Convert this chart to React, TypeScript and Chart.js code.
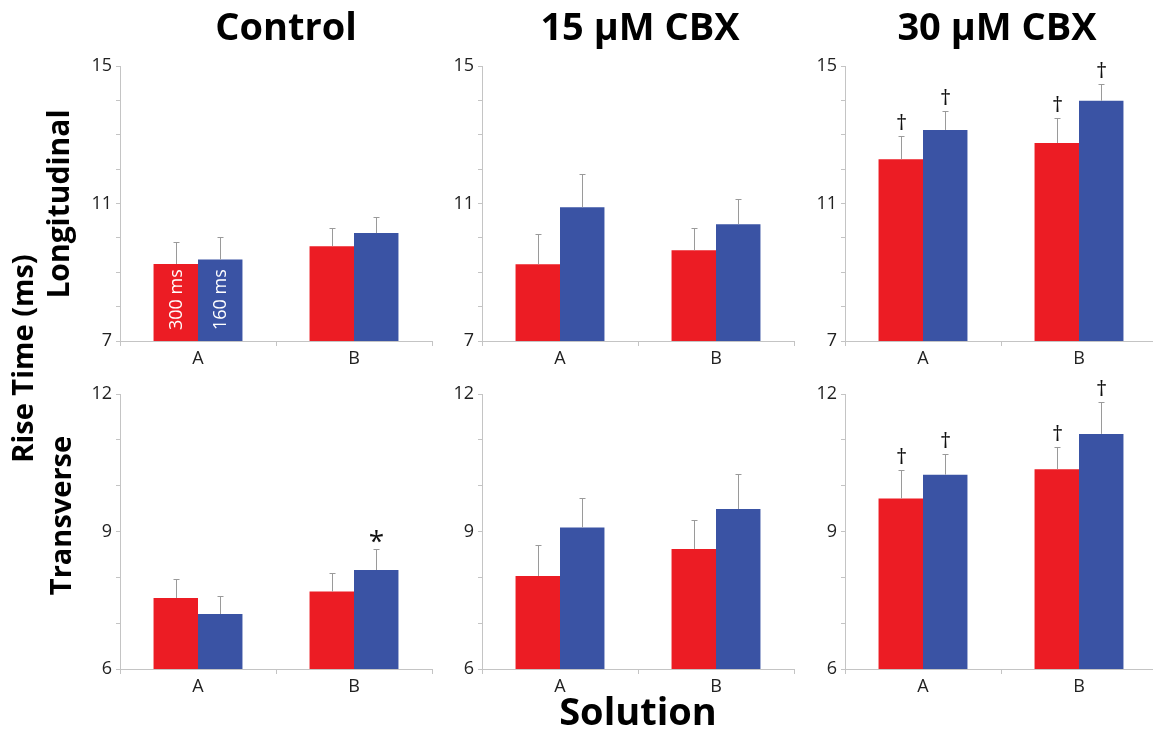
import React, { useEffect, useRef } from "react";
import { Chart, registerables } from "chart.js";

Chart.register(...registerables);

// ---------- data ----------
const categories = ["A", "B"];
const seriesNames = ["300 ms", "160 ms"];
const columnTitles = ["Control", "15 µM CBX", "30 µM CBX"];
const rowTitles = ["Longitudinal", "Transverse"];
const yAxisTitle = "Rise Time (ms)";
const xAxisTitle = "Solution";

const longTicks = [7, 11, 15];
const transTicks = [6, 9, 12];

// Longitudinal
const ctrlLong300 = [9.24, 9.76];
const ctrlLong160 = [9.37, 10.14];
const ctrlLong300Err = [0.63, 0.52];
const ctrlLong160Err = [0.66, 0.47];

const cbx15Long300 = [9.23, 9.64];
const cbx15Long160 = [10.89, 10.4];
const cbx15Long300Err = [0.87, 0.64];
const cbx15Long160Err = [0.97, 0.72];

const cbx30Long300 = [12.29, 12.76];
const cbx30Long160 = [13.14, 13.99];
const cbx30Long300Err = [0.66, 0.74];
const cbx30Long160Err = [0.55, 0.5];

// Transverse
const ctrlTrans300 = [7.55, 7.69];
const ctrlTrans160 = [7.2, 8.16];
const ctrlTrans300Err = [0.42, 0.41];
const ctrlTrans160Err = [0.4, 0.46];

const cbx15Trans300 = [8.03, 8.62];
const cbx15Trans160 = [9.09, 9.49];
const cbx15Trans300Err = [0.68, 0.64];
const cbx15Trans160Err = [0.64, 0.76];

const cbx30Trans300 = [9.72, 10.36];
const cbx30Trans160 = [10.24, 11.13];
const cbx30Trans300Err = [0.62, 0.49];
const cbx30Trans160Err = [0.45, 0.69];

// significance marks
const noMarks = ["", ""];
const ctrlTrans160Marks = ["", "*"];
const cbx30Marks = ["†", "†"];

// ---------- styling ----------
const RED = "#EC1C24";
const BLUE = "#3A53A4";
const AXIS = "#c4c4c4";
const ERR = "#9a9a9a";
const FONT = "'Open Sans', 'Noto Sans', sans-serif";

const COL_X = [120, 482, 845];
const ROW_Y = [66, 394];
const PLOT_H = 275;
const PLOT_W = 312;
const PAD_L = 60;
const PAD_T = 30;
const PAD_R = 10;
const X_H = 35;

type PanelCfg = {
  col: number;
  row: number;
  v300: number[];
  v160: number[];
  e300: number[];
  e160: number[];
  m300: string[];
  m160: string[];
  ticks: number[];
  inBar?: boolean;
};

const panels: PanelCfg[] = [
  { col: 0, row: 0, v300: ctrlLong300, v160: ctrlLong160, e300: ctrlLong300Err, e160: ctrlLong160Err, m300: noMarks, m160: noMarks, ticks: longTicks, inBar: true },
  { col: 1, row: 0, v300: cbx15Long300, v160: cbx15Long160, e300: cbx15Long300Err, e160: cbx15Long160Err, m300: noMarks, m160: noMarks, ticks: longTicks },
  { col: 2, row: 0, v300: cbx30Long300, v160: cbx30Long160, e300: cbx30Long300Err, e160: cbx30Long160Err, m300: cbx30Marks, m160: cbx30Marks, ticks: longTicks },
  { col: 0, row: 1, v300: ctrlTrans300, v160: ctrlTrans160, e300: ctrlTrans300Err, e160: ctrlTrans160Err, m300: noMarks, m160: ctrlTrans160Marks, ticks: transTicks },
  { col: 1, row: 1, v300: cbx15Trans300, v160: cbx15Trans160, e300: cbx15Trans300Err, e160: cbx15Trans160Err, m300: noMarks, m160: noMarks, ticks: transTicks },
  { col: 2, row: 1, v300: cbx30Trans300, v160: cbx30Trans160, e300: cbx30Trans300Err, e160: cbx30Trans160Err, m300: cbx30Marks, m160: cbx30Marks, ticks: transTicks },
];

const errPlugin = {
  id: "errbars",
  afterDatasetsDraw(chart: any) {
    const ctx = chart.ctx;
    const ys = chart.scales.y;
    chart.data.datasets.forEach((ds: any, di: number) => {
      const meta = chart.getDatasetMeta(di);
      meta.data.forEach((bar: any, i: number) => {
        const v = ds.data[i];
        const e = ds.errors[i];
        const yTop = Math.round(ys.getPixelForValue(v + e)) + 0.5;
        const x = Math.round(bar.x) + 0.5;
        ctx.save();
        ctx.strokeStyle = ERR;
        ctx.lineWidth = 1;
        ctx.beginPath();
        ctx.moveTo(x, bar.y);
        ctx.lineTo(x, yTop);
        ctx.moveTo(x - 3, yTop);
        ctx.lineTo(x + 3, yTop);
        ctx.stroke();
        const mk = ds.marks[i];
        if (mk) {
          const size = mk === "*" ? 28 : 22;
          ctx.font = `${size}px ${FONT}`;
          ctx.fillStyle = "#111";
          ctx.textAlign = "center";
          ctx.textBaseline = "alphabetic";
          const m = ctx.measureText(mk);
          const gap = 7;
          const base = yTop - gap - m.actualBoundingBoxDescent;
          ctx.fillText(mk, x, base);
        }
        if (ds.inBar && i === 0) {
          ctx.translate(bar.x, chart.chartArea.bottom - 11);
          ctx.rotate(-Math.PI / 2);
          ctx.font = `18px ${FONT}`;
          ctx.fillStyle = "#ffffff";
          ctx.textAlign = "left";
          ctx.textBaseline = "middle";
          ctx.fillText(ds.label, 0, 1);
        }
        ctx.restore();
      });
    });
  },
};

function Panel({ cfg }: { cfg: PanelCfg }) {
  const ref = useRef<HTMLCanvasElement | null>(null);
  const W = PAD_L + PLOT_W + PAD_R;
  const H = PAD_T + PLOT_H + X_H;
  useEffect(() => {
    if (!ref.current) return;
    const ymin = cfg.ticks[0];
    const ymax = cfg.ticks[cfg.ticks.length - 1];
    const chart = new Chart(ref.current, {
      type: "bar",
      data: {
        labels: categories,
        datasets: [
          {
            label: seriesNames[0],
            data: cfg.v300,
            backgroundColor: RED,
            borderWidth: 0,
            categoryPercentage: 0.57,
            barPercentage: 1,
            errors: cfg.e300,
            marks: cfg.m300,
            inBar: !!cfg.inBar,
          } as any,
          {
            label: seriesNames[1],
            data: cfg.v160,
            backgroundColor: BLUE,
            borderWidth: 0,
            categoryPercentage: 0.57,
            barPercentage: 1,
            errors: cfg.e160,
            marks: cfg.m160,
            inBar: !!cfg.inBar,
          } as any,
        ],
      },
      options: {
        responsive: false,
        animation: false,
        devicePixelRatio: 1,
        layout: { padding: { top: PAD_T, right: PAD_R, left: 0, bottom: 0 } },
        plugins: { legend: { display: false }, tooltip: { enabled: false } },
        scales: {
          x: {
            offset: true,
            grid: { display: true, drawOnChartArea: false, drawTicks: true, tickLength: 5, color: AXIS, offset: true },
            border: { color: AXIS },
            ticks: { font: { family: FONT, size: 18 }, color: "#222", padding: 2 },
            afterFit: (s: any) => {
              s.height = X_H;
            },
          },
          y: {
            min: ymin,
            max: ymax,
            grid: { drawOnChartArea: false, drawTicks: true, tickLength: 4, color: AXIS },
            border: { color: AXIS },
            ticks: {
              stepSize: 1,
              autoSkip: false,
              font: { family: FONT, size: 18 },
              color: "#222",
              padding: 4,
              callback: (v: any) => (cfg.ticks.includes(Number(v)) ? String(v) : ""),
            },
            afterFit: (s: any) => {
              s.width = PAD_L;
            },
          },
        },
      } as any,
      plugins: [errPlugin],
    });
    return () => chart.destroy();
  }, [cfg]);
  return (
    <canvas
      ref={ref}
      width={W}
      height={H}
      style={{
        position: "absolute",
        left: COL_X[cfg.col] - PAD_L,
        top: ROW_Y[cfg.row] - PAD_T,
        width: W,
        height: H,
      }}
    />
  );
}

function Label({ text, cx, cy, size, rotate }: { text: string; cx: number; cy: number; size: number; rotate?: boolean }) {
  const w = 400;
  return (
    <div
      style={{
        position: "absolute",
        left: cx - w / 2,
        top: cy - size / 2,
        width: w,
        height: size,
        lineHeight: `${size}px`,
        fontSize: size,
        fontFamily: FONT,
        fontWeight: 700,
        color: "#000",
        textAlign: "center",
        whiteSpace: "nowrap",
        transform: rotate ? "rotate(-90deg)" : undefined,
      }}
    >
      {text}
    </div>
  );
}

export default function App() {
  return (
    <div
      style={{
        position: "absolute",
        left: 0,
        top: 0,
        width: 1153,
        height: 734,
        overflow: "hidden",
        background: "#fff",
      }}
    >
      {panels.map((p, i) => (
        <Panel key={i} cfg={p} />
      ))}
      <Label text={columnTitles[0]} cx={286} cy={25} size={38} />
      <Label text={columnTitles[1]} cx={640} cy={25} size={38} />
      <Label text={columnTitles[2]} cx={997} cy={25} size={38} />
      <Label text={rowTitles[0]} cx={58} cy={204} size={30} rotate />
      <Label text={rowTitles[1]} cx={59} cy={515} size={29} rotate />
      <Label text={yAxisTitle} cx={21} cy={358} size={29} rotate />
      <Label text={xAxisTitle} cx={638} cy={710} size={38} />
    </div>
  );
}
